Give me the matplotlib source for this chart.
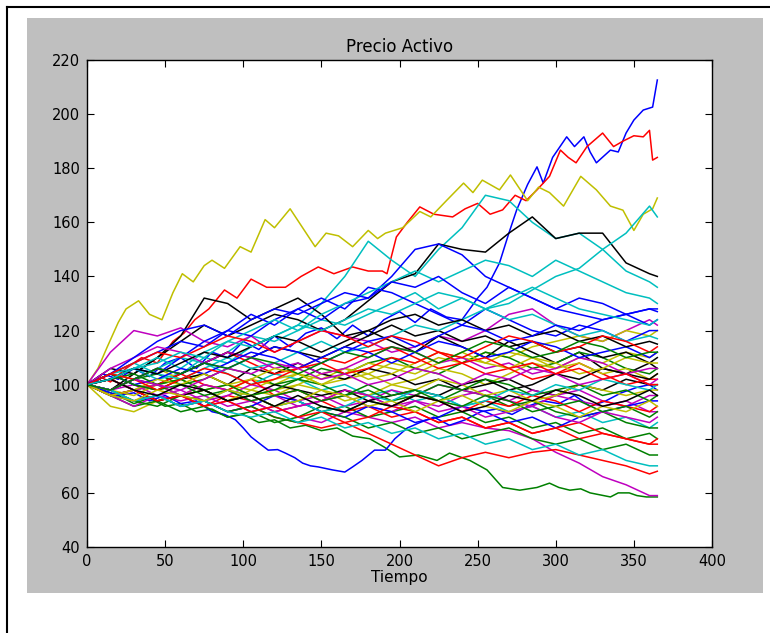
import matplotlib
matplotlib.use('Agg')
import matplotlib.pyplot as plt
from matplotlib.patches import Rectangle
from matplotlib.lines import Line2D

# dias leidos cada 15 dias (ultimo punto = 365)
dias = [0, 15, 30, 45, 60, 75, 90, 105, 120, 135, 150, 165, 180,
        195, 210, 225, 240, 255, 270, 285, 300, 315, 330, 345, 360, 365]

# trayectorias extremas, leidas con mas detalle
dias_b1 = [0, 10, 20, 30, 40, 50, 60, 70, 80, 90, 100, 110, 120, 130, 140, 150, 160, 170, 180, 190,
           200, 210, 220, 230, 240, 250, 256, 264, 270, 275, 282, 288, 292, 298, 307, 312, 318, 322,
           326, 335, 340, 345, 350, 356, 362, 365]
b1 = [100, 104, 102, 106, 103, 108, 110, 106, 112, 110, 116, 113, 118, 114, 119, 121, 117, 122, 118, 124,
      127, 123, 128, 125, 124, 132, 136, 145, 156, 164.6, 174, 180.5, 174.5, 184, 191.6, 188, 191.6, 186,
      182, 186.7, 186, 193, 197.8, 201.5, 202.6, 212.6]

dias_g1 = [0, 10, 20, 30, 40, 50, 60, 70, 80, 90, 100, 110, 120, 130, 140, 150, 160, 170, 181, 190,
           200, 212, 224, 232, 245, 256, 266, 277, 288, 296, 302, 309, 316, 322, 335, 340, 347, 352, 358, 365]
g1 = [100, 98, 96, 93, 95, 92, 93, 90, 91, 88, 89, 86, 87, 84, 85, 83, 84, 81, 80, 77,
      73.3, 74, 72, 74.7, 72, 68.5, 62, 61, 62, 63.6, 62, 61, 61.5, 60, 58.5, 60, 60, 59, 58.5, 58.5]

dias_r1 = [0, 8, 15, 25, 35, 45, 55, 62, 69, 78, 88, 96, 105, 115, 127, 137, 148, 158, 170, 180,
           189, 192, 198, 205, 213, 222, 234, 242, 250, 258, 266, 274, 281, 288, 296, 303, 308, 313,
           320, 330, 337, 343, 350, 356, 360, 362, 365]
r1 = [100, 103, 101, 106, 110, 108, 116, 119, 124, 128, 135, 132, 139, 136, 136, 140, 143.5, 141, 143.5, 142,
      142, 141, 154.6, 160, 165.7, 163, 162, 165, 167, 163, 164.6, 170, 168, 172, 177, 186.7, 184, 182,
      188, 193, 188, 190, 192, 191.6, 194, 183, 184]

dias_y1 = [0, 7, 13, 20, 25, 33, 40, 48, 55, 61, 68, 75, 80, 88, 98, 105, 114, 120, 130, 138,
           146, 153, 161, 170, 180, 186, 191, 202, 213, 220, 230, 241, 247, 253, 264, 271, 282, 289,
           296, 305, 316, 326, 335, 343, 350, 356, 362, 365]
y1 = [100, 106, 114, 123, 128, 131, 126, 124, 134, 141, 138, 144, 146, 143, 151, 149, 161, 158, 165, 158,
      151, 156, 155, 151, 157, 154, 156, 158, 164, 162, 168, 174.5, 171, 175.6, 172, 177.5, 168, 173,
      171, 166, 177, 172, 166, 164.5, 157, 163, 165, 169]

dias_b2 = [0, 10, 20, 30, 40, 50, 60, 70, 80, 88, 95, 100, 105, 111, 116, 122, 127, 133, 138, 143,
           148, 157, 165, 170, 176, 184, 191, 197, 205, 213, 222, 232, 242, 252, 262, 272, 282, 292,
           302, 312, 322, 332, 342, 352, 360, 365]
b2 = [100, 98, 96, 97, 94, 96, 93, 94, 90, 89, 87, 84, 80.7, 78, 75.8, 76, 74.7, 73, 71, 70,
      69.6, 68.5, 67.7, 69.6, 72, 75.8, 75.8, 80, 84, 86, 88, 85, 87, 90, 91, 89, 92, 94,
      93, 96, 92, 94, 97, 99, 100, 98]

# resto de trayectorias, en orden del ciclo de colores b g r c m y k
c1 = [100, 104, 102, 106, 104, 110, 108, 114, 118, 122, 130, 140, 153, 146, 140, 150, 158, 170, 168, 160, 154, 156, 150, 142, 138, 136]
m1 = [100, 96, 98, 94, 96, 92, 94, 90, 92, 88, 86, 90, 88, 86, 88, 84, 86, 84, 83, 80, 75, 71, 66, 63, 59, 59]
k1 = [100, 106, 104, 110, 116, 122, 118, 122, 126, 124, 120, 124, 131, 138, 141, 152, 150, 149, 156, 162, 154, 156, 156, 145, 141, 140]
g2 = [100, 102, 98, 100, 96, 98, 94, 96, 92, 94, 90, 92, 88, 90, 92, 88, 90, 86, 88, 84, 86, 82, 84, 80, 82, 80]
r2 = [100, 98, 94, 96, 92, 94, 90, 92, 88, 86, 84, 86, 82, 78, 74, 70, 73, 75, 73, 75, 76, 74, 72, 70, 67, 68]
c2 = [100, 98, 102, 106, 110, 108, 112, 118, 116, 120, 124, 122, 126, 130, 134, 128, 132, 128, 130, 135, 140, 143, 150, 156, 166, 162]
m2 = [100, 112, 120, 118, 121, 116, 114, 118, 112, 116, 120, 118, 116, 112, 114, 118, 116, 120, 126, 128, 122, 118, 116, 120, 124, 122]
y2 = [100, 92, 90, 94, 96, 100, 98, 102, 100, 104, 102, 106, 104, 108, 106, 110, 108, 112, 110, 114, 116, 118, 116, 120, 118, 120]
k2 = [100, 98, 104, 110, 118, 132, 130, 124, 128, 132, 126, 118, 120, 116, 112, 118, 114, 110, 116, 112, 108, 112, 106, 104, 108, 106]

resto = [
    # ciclo 3
    [100, 104, 108, 112, 116, 114, 120, 118, 124, 128, 124, 130, 132, 140, 150, 152, 148, 140, 136, 132, 128, 126, 124, 126, 128, 127],
    [100, 98, 102, 104, 100, 102, 106, 104, 100, 102, 106, 104, 108, 110, 106, 104, 108, 112, 110, 106, 108, 112, 110, 106, 104, 106],
    [100, 102, 98, 94, 96, 92, 96, 94, 90, 92, 94, 90, 92, 88, 90, 86, 88, 84, 86, 82, 84, 80, 82, 80, 78, 80],
    [100, 104, 106, 102, 104, 108, 104, 100, 104, 102, 98, 100, 96, 98, 94, 96, 92, 94, 90, 92, 88, 90, 86, 88, 84, 86],
    [100, 98, 100, 96, 94, 96, 92, 94, 90, 92, 94, 96, 92, 90, 94, 92, 96, 98, 94, 92, 96, 98, 94, 92, 96, 96],
    [100, 104, 102, 106, 102, 104, 100, 98, 102, 104, 100, 102, 104, 100, 102, 106, 104, 100, 104, 108, 106, 110, 108, 112, 110, 112],
    [100, 104, 100, 98, 102, 104, 100, 106, 104, 108, 104, 102, 106, 104, 100, 102, 98, 100, 102, 98, 96, 100, 98, 102, 100, 100],
    # ciclo 4
    [100, 102, 106, 104, 110, 116, 120, 126, 122, 128, 132, 128, 136, 134, 130, 126, 122, 128, 124, 120, 118, 122, 120, 116, 120, 120],
    [100, 96, 92, 94, 90, 92, 88, 90, 86, 88, 92, 90, 94, 92, 96, 94, 98, 96, 92, 94, 90, 88, 90, 86, 84, 84],
    [100, 98, 102, 106, 104, 108, 112, 108, 104, 106, 110, 108, 112, 114, 110, 106, 108, 104, 106, 102, 104, 108, 104, 100, 102, 102],
    [100, 102, 106, 110, 106, 112, 116, 120, 124, 120, 126, 130, 134, 138, 142, 138, 142, 146, 144, 140, 146, 142, 138, 134, 132, 130],
    [100, 96, 92, 96, 98, 94, 96, 100, 98, 94, 96, 92, 94, 98, 96, 100, 98, 96, 94, 98, 96, 94, 92, 94, 90, 90],
    [100, 98, 96, 100, 102, 98, 100, 96, 98, 100, 104, 106, 102, 104, 108, 112, 110, 108, 112, 110, 106, 108, 104, 106, 102, 104],
    [100, 98, 102, 100, 104, 108, 112, 110, 114, 112, 110, 114, 118, 122, 118, 120, 116, 118, 114, 116, 112, 114, 110, 112, 108, 110],
    # ciclo 5
    [100, 96, 94, 96, 92, 94, 90, 92, 96, 94, 90, 88, 92, 90, 86, 88, 92, 90, 86, 88, 84, 88, 90, 92, 94, 94],
    [100, 98, 94, 92, 96, 94, 90, 92, 88, 86, 90, 88, 84, 86, 82, 84, 80, 82, 84, 80, 78, 80, 76, 78, 74, 74],
    [100, 102, 98, 100, 104, 100, 98, 102, 96, 98, 94, 98, 96, 92, 96, 94, 90, 94, 92, 96, 94, 90, 94, 92, 90, 92],
    [100, 104, 108, 104, 102, 106, 110, 106, 108, 112, 116, 112, 114, 118, 122, 120, 124, 128, 124, 126, 122, 118, 120, 116, 118, 117],
    [100, 106, 110, 114, 112, 108, 112, 110, 106, 108, 104, 106, 110, 114, 112, 108, 110, 106, 108, 104, 106, 110, 108, 104, 106, 106],
    [100, 102, 98, 100, 96, 98, 94, 98, 96, 100, 98, 94, 96, 100, 98, 102, 100, 96, 98, 94, 96, 100, 98, 96, 98, 98],
    [100, 96, 98, 94, 96, 98, 94, 96, 100, 98, 96, 98, 94, 96, 98, 96, 100, 102, 98, 100, 104, 102, 106, 104, 102, 104],
    # ciclo 6
    [100, 104, 100, 102, 106, 104, 108, 112, 110, 106, 110, 114, 112, 108, 112, 116, 114, 110, 112, 116, 114, 110, 112, 114, 110, 112],
    [100, 102, 104, 100, 102, 98, 100, 96, 98, 102, 100, 96, 98, 94, 96, 100, 98, 102, 100, 96, 98, 100, 96, 98, 94, 96],
    [100, 96, 98, 94, 96, 92, 94, 90, 92, 88, 90, 86, 88, 92, 90, 86, 88, 84, 86, 82, 84, 86, 82, 80, 78, 78],
    [100, 98, 94, 96, 92, 94, 98, 96, 92, 94, 90, 92, 96, 94, 98, 96, 92, 94, 98, 96, 100, 98, 102, 100, 98, 100],
    [100, 102, 98, 100, 96, 100, 98, 94, 96, 92, 94, 98, 96, 92, 94, 90, 92, 88, 90, 92, 88, 86, 90, 88, 86, 88],
    [100, 96, 98, 102, 100, 104, 100, 102, 106, 104, 100, 104, 108, 106, 104, 108, 112, 108, 106, 110, 108, 104, 106, 110, 108, 108],
    [100, 102, 106, 104, 108, 112, 110, 114, 118, 116, 112, 116, 120, 124, 126, 122, 124, 120, 122, 118, 120, 116, 118, 114, 116, 115],
    # ciclo 7
    [100, 98, 102, 106, 104, 108, 106, 110, 114, 112, 108, 112, 116, 118, 114, 118, 122, 120, 116, 118, 122, 120, 124, 126, 122, 124],
    [100, 104, 100, 98, 100, 96, 98, 94, 96, 98, 94, 96, 100, 96, 98, 94, 92, 96, 94, 90, 92, 94, 90, 92, 88, 90],
    [100, 104, 102, 98, 102, 106, 104, 100, 102, 106, 108, 104, 106, 110, 108, 112, 110, 114, 118, 116, 112, 114, 118, 116, 112, 114],
    [100, 98, 94, 96, 92, 94, 90, 88, 90, 86, 88, 84, 86, 82, 84, 80, 82, 78, 80, 76, 78, 74, 76, 72, 70, 70],
    [100, 98, 102, 100, 98, 102, 106, 104, 108, 106, 102, 104, 100, 102, 106, 104, 100, 104, 102, 106, 104, 100, 102, 104, 100, 102],
    [100, 96, 94, 98, 96, 94, 98, 96, 92, 94, 98, 96, 92, 94, 90, 94, 96, 92, 90, 94, 92, 88, 92, 90, 94, 92],
    [100, 102, 98, 96, 100, 98, 94, 96, 92, 96, 92, 90, 94, 92, 96, 94, 90, 92, 96, 94, 98, 96, 92, 94, 98, 96],
    # ciclo 8
    [100, 104, 110, 116, 120, 122, 118, 124, 128, 126, 130, 134, 132, 138, 136, 140, 134, 130, 136, 132, 128, 132, 130, 126, 128, 128],
    [100, 98, 102, 106, 104, 108, 106, 110, 108, 104, 108, 112, 110, 114, 112, 108, 112, 116, 114, 110, 112, 116, 114, 110, 112, 112],
    [100, 104, 108, 112, 110, 114, 118, 116, 112, 116, 120, 118, 114, 118, 116, 112, 108, 110, 106, 108, 104, 106, 102, 104, 100, 100],
    [100, 102, 106, 108, 112, 110, 116, 114, 118, 122, 120, 124, 128, 126, 130, 134, 132, 128, 132, 136, 132, 128, 126, 124, 122, 124],
]

series = [(dias_b1, b1), (dias_g1, g1), (dias_r1, r1), (dias, c1), (dias, m1), (dias_y1, y1), (dias, k1),
          (dias_b2, b2), (dias, g2), (dias, r2), (dias, c2), (dias, m2), (dias, y2), (dias, k2)]
series += [(dias, v) for v in resto]

plt.rcParams['axes.prop_cycle'] = matplotlib.cycler(color=['b', 'g', 'r', 'c', 'm', 'y', 'k'])
plt.rcParams['font.family'] = 'DejaVu Sans'

fig = plt.figure(figsize=(7.70, 6.33), dpi=100)
fig.patch.set_facecolor('white')

# fondo gris de la figura y marco negro
fig.patches.append(Rectangle((27 / 770, 40 / 633), 736 / 770, 575 / 633,
                             transform=fig.transFigure, facecolor='#bfbfbf',
                             edgecolor='none', zorder=-1))
fig.lines.append(Line2D([7 / 770, 7 / 770], [0, 1 - 7 / 633],
                        transform=fig.transFigure, color='black', lw=1.5))
fig.lines.append(Line2D([7 / 770, 1], [1 - 7 / 633, 1 - 7 / 633],
                        transform=fig.transFigure, color='black', lw=1.5))

ax = fig.add_axes([87 / 770, 86 / 633, 625 / 770, 487 / 633])
ax.set_facecolor('white')

for x, v in series:
    ax.plot(x, v, linewidth=1.1)

ax.set_xlim(0, 400)
ax.set_ylim(40, 220)
ax.set_xticks(range(0, 401, 50))
ax.set_yticks(range(40, 221, 20))
ax.tick_params(direction='in', top=True, right=True, length=5, labelsize=10.5, pad=5)
for s in ax.spines.values():
    s.set_linewidth(1.0)
ax.set_title('Precio Activo', fontsize=12)
ax.set_xlabel('Tiempo', fontsize=11, labelpad=1)

fig.savefig('out.png', dpi=100)
